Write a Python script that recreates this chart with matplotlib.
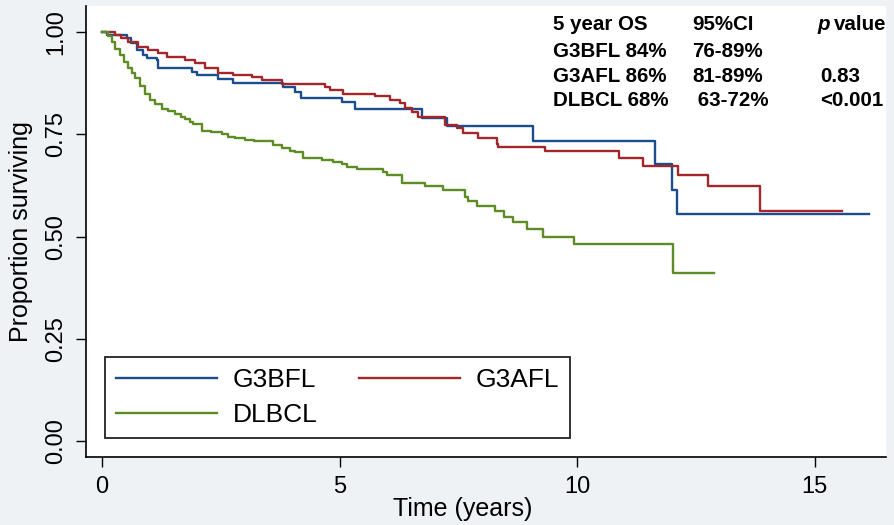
import matplotlib
matplotlib.use("Agg")
import matplotlib.pyplot as plt

plt.rcParams['font.family'] = ['Liberation Sans', 'DejaVu Sans']

# Kaplan-Meier estimates (time in years, proportion surviving)
g3bfl_t = [0, 0.1, 0.53, 0.6, 0.74, 0.85, 0.95, 1.16, 1.18, 1.9, 2.0, 2.44, 2.76,
           3.81, 4.06, 4.19, 5.05, 5.33, 6.74, 7.26, 9.07, 11.64, 12.0, 12.1, 16.15]
g3bfl_s = [1.0, 0.993, 0.985, 0.973, 0.956, 0.944, 0.936, 0.931, 0.912, 0.902, 0.895, 0.885, 0.875,
           0.865, 0.853, 0.84, 0.829, 0.812, 0.79, 0.77, 0.733, 0.678, 0.615, 0.555, 0.555]

g3afl_t = [0, 0.27, 0.4, 0.55, 0.76, 0.97, 1.18, 1.37, 1.75, 1.96, 2.17, 2.44, 2.76,
           3.16, 3.37, 3.79, 4.7, 4.8, 5.07, 5.75, 6.06, 6.27, 6.38, 6.53, 6.65, 7.22,
           7.47, 7.6, 7.92, 8.32, 8.34, 9.33, 10.88, 11.39, 12.13, 12.76, 13.85, 15.58]
g3afl_s = [1.0, 0.993, 0.985, 0.976, 0.963, 0.956, 0.949, 0.939, 0.932, 0.924, 0.912, 0.9, 0.895,
           0.89, 0.883, 0.873, 0.865, 0.858, 0.85, 0.843, 0.834, 0.826, 0.814, 0.805, 0.792, 0.773,
           0.765, 0.753, 0.74, 0.726, 0.719, 0.709, 0.692, 0.673, 0.651, 0.624, 0.562, 0.562]

dlbcl_t = [0, 0.12, 0.2, 0.28, 0.38, 0.46, 0.55, 0.62, 0.7, 0.8, 0.9, 1.0, 1.12, 1.25,
           1.39, 1.54, 1.65, 1.75, 1.84, 1.92, 2.1, 2.3, 2.53, 2.65, 2.8, 3.01, 3.2, 3.43,
           3.6, 3.79, 3.95, 4.06, 4.23, 4.63, 4.85, 5.05, 5.16, 5.37, 5.92, 6.0, 6.32, 6.8,
           7.18, 7.64, 7.71, 7.89, 8.27, 8.46, 8.65, 8.95, 9.28, 9.94, 12.02, 12.88]
dlbcl_s = [1.0, 0.99, 0.976, 0.96, 0.944, 0.928, 0.912, 0.9, 0.887, 0.868, 0.85, 0.835, 0.824, 0.812,
           0.806, 0.8, 0.793, 0.787, 0.78, 0.775, 0.758, 0.755, 0.75, 0.743, 0.74, 0.736, 0.735, 0.733,
           0.725, 0.716, 0.71, 0.707, 0.692, 0.687, 0.682, 0.677, 0.67, 0.665, 0.657, 0.65, 0.63, 0.623,
           0.615, 0.597, 0.587, 0.575, 0.562, 0.548, 0.535, 0.518, 0.5, 0.481, 0.41, 0.41]

x_ticks = [0, 5, 10, 15]
y_ticks = [0.0, 0.25, 0.5, 0.75, 1.0]

table_rows = [
    ["5 year OS", "95%CI", ""],
    ["G3BFL 84%", "76-89%", ""],
    ["G3AFL 86%", "81-89%", "0.83"],
    ["DLBCL 68%", " 63-72%", "<0.001"],
]

bg = "#eef2f5"
c_blue = "#1c4d8c"
c_red = "#a3262a"
c_green = "#5e8c24"

fig = plt.figure(figsize=(8.95, 5.25), dpi=100, facecolor=bg)
ax = fig.add_axes([86 / 895, 68 / 525, 800 / 895, 451 / 525])
ax.set_facecolor("white")

l1, = ax.step(g3bfl_t, g3bfl_s, where="post", color=c_blue, lw=1.7, label="G3BFL")
l2, = ax.step(g3afl_t, g3afl_s, where="post", color=c_red, lw=1.7, label="G3AFL")
l3, = ax.step(dlbcl_t, dlbcl_s, where="post", color=c_green, lw=1.7, label="DLBCL")

ax.set_xlim(-0.34, 16.5)
ax.set_ylim(-0.039, 1.064)
ax.set_xticks(x_ticks)
ax.set_yticks(y_ticks)
ax.set_yticklabels([f"{v:.2f}" for v in y_ticks], rotation=90, va="center")
ax.tick_params(axis="both", direction="out", length=7.5, width=1, labelsize=17, pad=6)

for s in ["top", "right"]:
    ax.spines[s].set_visible(False)
for s in ["left", "bottom"]:
    ax.spines[s].set_linewidth(1.2)

ax.set_xlabel("Time (years)", fontsize=18)
ax.set_ylabel("Proportion surviving", fontsize=18)
ax.xaxis.set_label_coords(0.471, -0.089)
ax.yaxis.set_label_coords(-0.066, 0.5)

# legend filled column-wise, so order handles to get G3BFL  G3AFL / DLBCL
leg = ax.legend([l1, l3, l2], ["G3BFL", "DLBCL", "G3AFL"], ncol=2, loc="lower left",
                bbox_to_anchor=(0.024, 0.042, 0.581, 0.188),
                mode="expand", borderaxespad=0, fontsize=19, handlelength=3.8,
                handletextpad=0.6, labelspacing=0.42, borderpad=0.42,
                fancybox=False, edgecolor="#222222", framealpha=1)
leg.get_frame().set_linewidth(1.3)

# OS table in the top right corner
col_x = [553, 692, 820]
row_y = [25, 51, 76, 101]
for row, y in zip(table_rows, row_y):
    for txt, x in zip(row, col_x):
        if txt:
            fig.text(x / 895, 1 - y / 525, txt, fontsize=14.8, fontweight="bold",
                     ha="left", va="center")
fig.text(817 / 895, 1 - 25 / 525, "p", fontsize=14.8, fontweight="bold",
         fontstyle="italic", ha="left", va="center")
fig.text(834 / 895, 1 - 25 / 525, "value", fontsize=14.8, fontweight="bold",
         ha="left", va="center")

fig.savefig("out.png", dpi=100, facecolor=bg)
